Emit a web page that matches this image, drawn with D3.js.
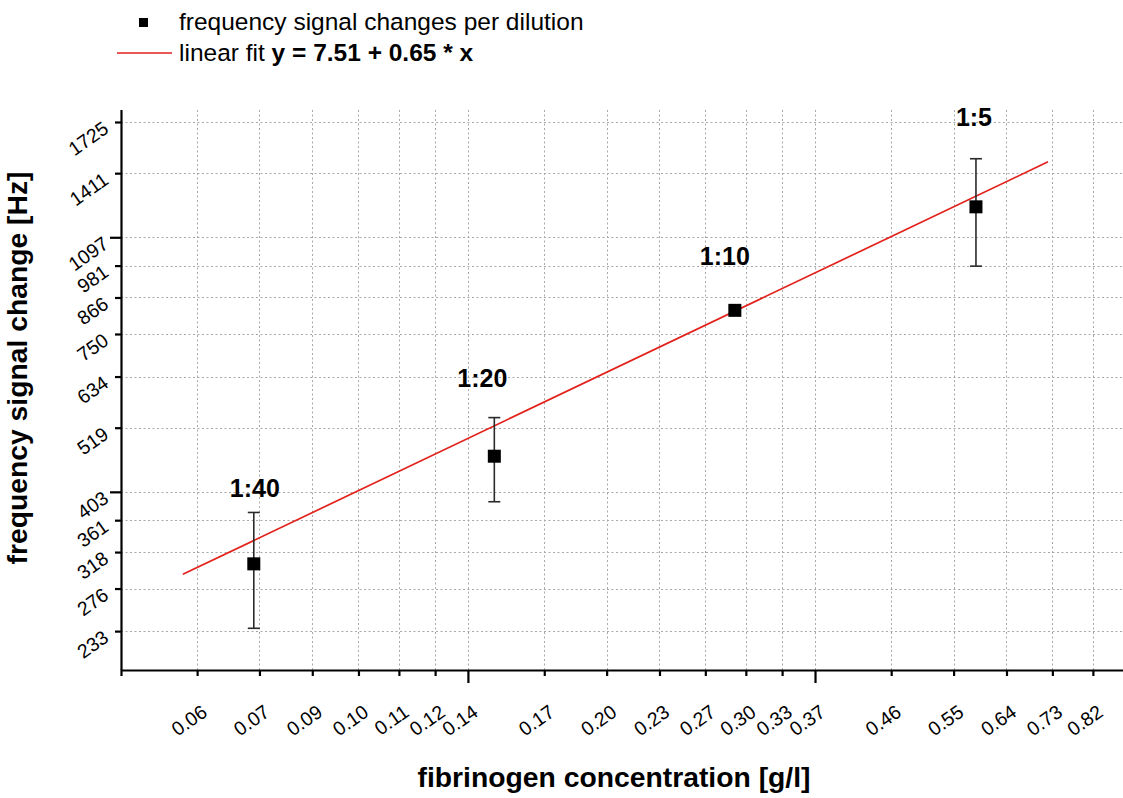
<!DOCTYPE html>
<html>
<head>
<meta charset="utf-8">
<script src="https://cdn.jsdelivr.net/npm/d3@7"></script>
<style>
  html, body { margin: 0; padding: 0; background: #fff; }
  svg { display: block; font-family: "Liberation Sans", Arial, Helvetica, sans-serif; }
</style>
</head>
<body>
<svg id="chart" width="1123" height="798"></svg>
<script>
// Dilution series of fibrinogen and the resulting frequency shift
const dilutions     = ["1:40", "1:20", "1:10", "1:5"];
const concentration = [0.073, 0.146, 0.292, 0.585];   // g/l
const signalMean    = [304, 464, 823, 1236];          // Hz
const signalSD      = [68, 76, 8, 257];               // Hz

// Fit in log space: ln(y) = a + b * ln(x)
const fitIntercept = 7.51;
const fitSlope     = 0.65;
const fitRange     = [0.0595, 0.720];                 // g/l

// Axis ticks (natural-log axes, decades split into even steps)
const xTickValues = [0.0620, 0.0742, 0.0864, 0.0987, 0.1109, 0.1231, 0.1353,
                     0.1686, 0.2018, 0.2350, 0.2682, 0.3014, 0.3346, 0.3679,
                     0.4582, 0.5485, 0.6388, 0.7291, 0.8194];
const xTickLabels = ["0.06", "0.07", "0.09", "0.10", "0.11", "0.12", "0.14",
                     "0.17", "0.20", "0.23", "0.27", "0.30", "0.33", "0.37",
                     "0.46", "0.55", "0.64", "0.73", "0.82"];
const yTickValues = [233.4, 275.9, 318.4, 360.9, 403.4, 519.0, 634.5, 750.0,
                     865.6, 981.1, 1096.6, 1410.7, 1724.8];
const yTickLabels = ["233", "276", "318", "361", "403", "519", "634", "750",
                     "866", "981", "1097", "1411", "1725"];

const legendPoints = "frequency signal changes per dilution";
const xTitle = "fibrinogen concentration [g/l]";
const yTitle = "frequency signal change [Hz]";

// ---- layout ----
const plotLeft = 121, plotRight = 1162, plotTop = 110, plotBottom = 670;
const svg = d3.select("#chart");
svg.append("rect").attr("width", 1123).attr("height", 798).attr("fill", "#fff");

const x = d3.scaleLog().domain([Math.exp(-3), Math.exp(0)]).range([plotLeft, plotRight]);
const y = d3.scaleLog().domain([Math.exp(5.3), Math.exp(7.5)]).range([plotBottom, plotTop]);

const isMajor = d => Math.abs(Math.log(d) - Math.round(Math.log(d))) < 0.005;

// grid
const grid = svg.append("g").attr("stroke", "#a8a8a8").attr("stroke-width", 1)
  .attr("stroke-dasharray", "2,2.5");
grid.selectAll("line.h").data(yTickValues).join("line").attr("class", "h")
  .attr("x1", plotLeft).attr("x2", plotRight)
  .attr("y1", d => Math.round(y(d)) + 0.5).attr("y2", d => Math.round(y(d)) + 0.5);
grid.selectAll("line.v").data(xTickValues).join("line").attr("class", "v")
  .attr("y1", plotTop).attr("y2", plotBottom)
  .attr("x1", d => Math.round(x(d)) + 0.5).attr("x2", d => Math.round(x(d)) + 0.5);

// x axis
const xAxis = svg.append("g").attr("transform", `translate(0,${plotBottom})`)
  .call(d3.axisBottom(x).tickValues(xTickValues)
    .tickFormat((d, i) => xTickLabels[i]).tickSizeOuter(0).tickSize(6));
xAxis.select(".domain").attr("stroke", "#000").attr("stroke-width", 2.2);
xAxis.selectAll(".tick line").attr("stroke", "#000").attr("stroke-width", 2.2)
  .attr("y2", d => isMajor(d) ? 13 : 6);
xAxis.selectAll(".tick text")
  .attr("x", 0).attr("y", 0).attr("dy", 0)
  .attr("transform", "translate(11,45) rotate(-35)")
  .style("text-anchor", "end")
  .attr("fill", "#000")
  .style("font-size", "19.5px");

// y axis
const yAxis = svg.append("g").attr("transform", `translate(${plotLeft},0)`)
  .call(d3.axisLeft(y).tickValues(yTickValues)
    .tickFormat((d, i) => yTickLabels[i]).tickSizeOuter(0).tickSize(6));
yAxis.select(".domain").attr("stroke", "#000").attr("stroke-width", 2.2)
  .attr("d", `M0.5,${plotTop}V${plotBottom}`);
yAxis.selectAll(".tick line").attr("stroke", "#000").attr("stroke-width", 2.2)
  .attr("x2", d => isMajor(d) ? -11 : -6);
yAxis.selectAll(".tick text")
  .attr("x", 0).attr("y", 0).attr("dy", 0)
  .attr("transform", "translate(-11,9) rotate(-35)")
  .style("text-anchor", "end")
  .attr("fill", "#000")
  .style("font-size", "19.5px");
svg.selectAll(".tick text").style("font-family", "'Liberation Sans', Arial, sans-serif");

// fit line
const fitLine = d3.line()
  .x(d => x(d))
  .y(d => y(Math.exp(fitIntercept + fitSlope * Math.log(d))));
svg.append("path").datum(fitRange)
  .attr("d", fitLine).attr("fill", "none")
  .attr("stroke", "#e3211c").attr("stroke-width", 1.7);

// error bars and markers
const rows = dilutions.map((label, i) => ({
  label, c: concentration[i], m: signalMean[i], sd: signalSD[i]
}));
const bars = svg.append("g").attr("stroke", "#2a2a2a").attr("stroke-width", 1.6);
bars.selectAll("line.stem").data(rows).join("line").attr("class", "stem")
  .attr("x1", d => x(d.c)).attr("x2", d => x(d.c))
  .attr("y1", d => y(d.m - d.sd)).attr("y2", d => y(d.m + d.sd));
bars.selectAll("line.capT").data(rows).join("line").attr("class", "capT")
  .attr("x1", d => x(d.c) - 6).attr("x2", d => x(d.c) + 6)
  .attr("y1", d => y(d.m + d.sd)).attr("y2", d => y(d.m + d.sd));
bars.selectAll("line.capB").data(rows).join("line").attr("class", "capB")
  .attr("x1", d => x(d.c) - 6).attr("x2", d => x(d.c) + 6)
  .attr("y1", d => y(d.m - d.sd)).attr("y2", d => y(d.m - d.sd));

const ms = 13;
svg.append("g").selectAll("rect").data(rows).join("rect")
  .attr("x", d => x(d.c) - ms / 2).attr("y", d => y(d.m) - ms / 2)
  .attr("width", ms).attr("height", ms).attr("fill", "#000");

// dilution labels above each measurement
const labelNudge = [[1, -15], [-12, -31], [-10, -43], [-2, -33]];
svg.append("g").selectAll("text").data(rows).join("text")
  .attr("x", (d, i) => x(d.c) + labelNudge[i][0])
  .attr("y", (d, i) => y(d.m + d.sd) + labelNudge[i][1])
  .attr("text-anchor", "middle")
  .style("font-size", "25px").style("font-weight", "bold")
  .text(d => d.label);

// axis titles
svg.append("text")
  .attr("x", 614).attr("y", 787)
  .attr("text-anchor", "middle")
  .style("font-size", "28.3px").style("font-weight", "bold")
  .text(xTitle);
svg.append("text")
  .attr("transform", "translate(27,368) rotate(-90)")
  .attr("text-anchor", "middle")
  .style("font-size", "28.3px").style("font-weight", "bold")
  .text(yTitle);

// legend
const legend = svg.append("g");
legend.append("rect").attr("x", 139).attr("y", 18).attr("width", 9).attr("height", 9)
  .attr("fill", "#000");
legend.append("text").attr("x", 179).attr("y", 30)
  .style("font-size", "24.5px").text(legendPoints);
legend.append("line").attr("x1", 117).attr("x2", 172).attr("y1", 53).attr("y2", 53)
  .attr("stroke", "#e3211c").attr("stroke-width", 1.7);
const fitText = legend.append("text").attr("x", 179).attr("y", 61)
  .style("font-size", "24.5px");
fitText.append("tspan").text("linear fit ");
fitText.append("tspan").style("font-weight", "bold")
  .text(`y = ${fitIntercept.toFixed(2)} + ${fitSlope.toFixed(2)} * x`);
</script>
</body>
</html>
